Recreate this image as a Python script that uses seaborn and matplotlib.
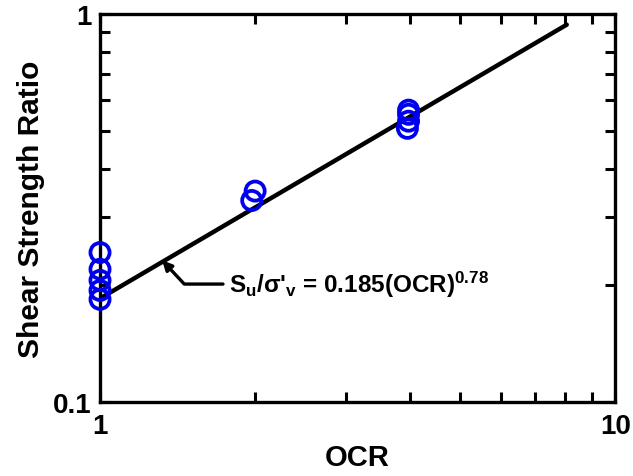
import matplotlib
matplotlib.use("Agg")
import matplotlib.pyplot as plt
import matplotlib.ticker as mticker
import seaborn as sns

# --- values ---
ocr_obs = [1, 1, 1, 1, 1, 1.97, 2.0, 3.97, 3.97, 3.97, 3.95]
ratio_obs = [0.243, 0.220, 0.206, 0.194, 0.184, 0.331, 0.350, 0.566, 0.552, 0.530, 0.508]

# fitted relation Su/s'v = 0.185 (OCR)^0.78, straight on log-log: two end points
ocr_fit = [1.0, 8.05]
ratio_fit = [0.185, 0.94]

x_ticks = [1, 10]
y_ticks = [0.1, 1]

sns.set_style("ticks")
plt.rcParams["font.family"] = ["Liberation Sans", "DejaVu Sans"]
plt.rcParams["font.weight"] = "bold"
plt.rcParams["text.color"] = "black"
plt.rcParams["axes.labelcolor"] = "black"
plt.rcParams["xtick.color"] = "black"
plt.rcParams["ytick.color"] = "black"
plt.rcParams["axes.edgecolor"] = "black"
plt.rcParams["mathtext.fontset"] = "custom"
plt.rcParams["mathtext.rm"] = "Liberation Sans:bold"
plt.rcParams["mathtext.bf"] = "Liberation Sans:bold"
plt.rcParams["mathtext.it"] = "Liberation Sans:bold"

fig = plt.figure(figsize=(6.33, 4.77), dpi=100)
ax = fig.add_axes([0.158, 0.155, 0.814, 0.813])

sns.lineplot(x=ocr_fit, y=ratio_fit, ax=ax, color="black", linewidth=3.2, zorder=2)
sns.scatterplot(x=ocr_obs, y=ratio_obs, ax=ax, marker="o", s=190,
                facecolors="none", edgecolor="#0000ee", linewidth=2.7,
                zorder=3, clip_on=False)

ax.set_xscale("log")
ax.set_yscale("log")
ax.set_xlim(1, 10)
ax.set_ylim(0.1, 1)

ax.xaxis.set_major_locator(mticker.FixedLocator(x_ticks))
ax.yaxis.set_major_locator(mticker.FixedLocator(y_ticks))
ax.xaxis.set_major_formatter(mticker.FuncFormatter(lambda v, p: f"{v:g}"))
ax.yaxis.set_major_formatter(mticker.FuncFormatter(lambda v, p: f"{v:g}"))
ax.xaxis.set_minor_locator(mticker.LogLocator(base=10, subs=range(2, 10)))
ax.yaxis.set_minor_locator(mticker.LogLocator(base=10, subs=range(2, 10)))
ax.xaxis.set_minor_formatter(mticker.NullFormatter())
ax.yaxis.set_minor_formatter(mticker.NullFormatter())

ax.tick_params(which="both", direction="in", top=True, right=True,
               length=7, width=2.2, labelsize=20)
ax.tick_params(axis="x", which="major", pad=8)
ax.tick_params(axis="y", which="major", pad=6)
for sp in ax.spines.values():
    sp.set_linewidth(2.4)
    sp.set_visible(True)

ax.set_xlabel("OCR", fontsize=21, fontweight="bold", labelpad=3)
ax.set_ylabel("Shear Strength Ratio", fontsize=21.5, fontweight="bold", labelpad=6)

ax.annotate("S$_\\mathrm{u}$/σ'$_\\mathrm{v}$ = 0.185(OCR)$^\\mathrm{0.78}$",
            xy=(1.32, 0.232), xytext=(1.78, 0.2015),
            fontsize=17.5, fontweight="bold", ha="left", va="center",
            arrowprops=dict(arrowstyle="-|>", color="black", lw=2.4,
                            mutation_scale=14, relpos=(0, 0.5),
                            shrinkA=2, shrinkB=0,
                            connectionstyle="angle,angleA=0,angleB=-47,rad=0"))

fig.savefig("out.png", dpi=100)
